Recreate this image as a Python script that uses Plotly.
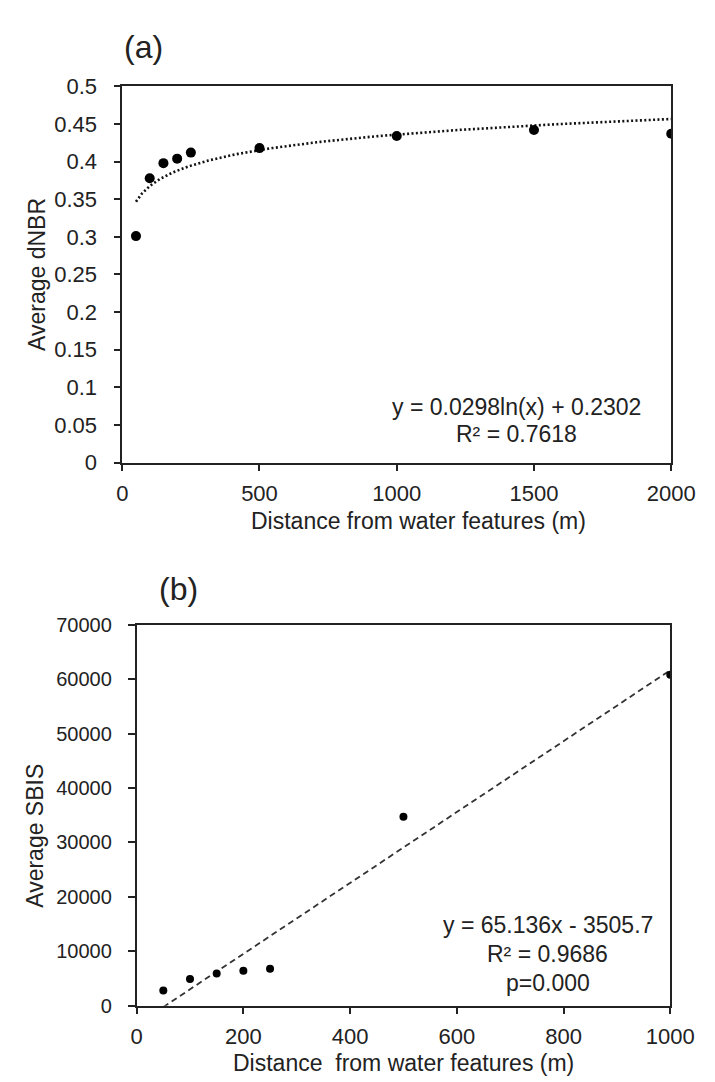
import numpy as np
import plotly.graph_objects as go

# ---- data ----
dist_a = [50, 100, 150, 200, 250, 500, 1000, 1500, 2000]
dnbr = [0.301, 0.378, 0.398, 0.404, 0.412, 0.418, 0.434, 0.442, 0.437]
fit_a_slope = 0.0298
fit_a_icpt = 0.2302

dist_b = [50, 100, 150, 200, 250, 500, 1000]
sbis = [2800, 4900, 5900, 6400, 6800, 34700, 60800]
fit_b_slope = 65.136
fit_b_icpt = -3505.7

ya_ticks = [0, 0.05, 0.1, 0.15, 0.2, 0.25, 0.3, 0.35, 0.4, 0.45, 0.5]
ya_text = ["0", "0.05", "0.1", "0.15", "0.2", "0.25", "0.3", "0.35", "0.4", "0.45", "0.5"]
xa_ticks = [0, 500, 1000, 1500, 2000]
yb_ticks = [0, 10000, 20000, 30000, 40000, 50000, 60000, 70000]
yb_text = [str(v) for v in yb_ticks]
xb_ticks = [0, 200, 400, 600, 800, 1000]

W, H = 715, 1082
FONT = "Arial, Liberation Sans, sans-serif"

def px_x(p):
    return p / W

def px_y(p):
    return 1 - p / H

fig = go.Figure()

# panel (a)
xa_fit = np.geomspace(min(dist_a), max(dist_a), 200)
fig.add_trace(go.Scatter(x=xa_fit, y=fit_a_slope * np.log(xa_fit) + fit_a_icpt,
                         mode="lines", line=dict(color="#111", width=2.6, dash="2px,2.4px"),
                         xaxis="x", yaxis="y", showlegend=False, hoverinfo="skip"))
fig.add_trace(go.Scatter(x=dist_a, y=dnbr, mode="markers",
                         marker=dict(color="black", size=10),
                         xaxis="x", yaxis="y", showlegend=False))

# panel (b)
xb_fit = np.array([min(dist_b), max(dist_b)])
fig.add_trace(go.Scatter(x=xb_fit, y=fit_b_slope * xb_fit + fit_b_icpt,
                         mode="lines", line=dict(color="#333", width=1.8, dash="6px,4px"),
                         xaxis="x2", yaxis="y2", showlegend=False, hoverinfo="skip"))
fig.add_trace(go.Scatter(x=dist_b, y=sbis, mode="markers",
                         marker=dict(color="black", size=8),
                         xaxis="x2", yaxis="y2", showlegend=False))

def axis_common(fs):
    return dict(showline=True, linecolor="#222", linewidth=1.5, mirror=True,
                ticks="outside", ticklen=7, tickcolor="#222", tickwidth=1.5,
                showgrid=False, zeroline=False,
                tickfont=dict(family=FONT, size=fs, color="#222"))

fig.update_layout(
    width=W, height=H, margin=dict(l=0, r=0, t=0, b=0),
    paper_bgcolor="white", plot_bgcolor="white",
    xaxis=dict(domain=[px_x(113), px_x(686)], range=[0, 2000], anchor="y",
               tickvals=xa_ticks, ticklabelstandoff=3, **axis_common(22)),
    yaxis=dict(domain=[px_y(453), px_y(68)], range=[0, 0.5], anchor="x",
               tickvals=ya_ticks, ticktext=ya_text, ticklabelstandoff=12, **axis_common(22)),
    xaxis2=dict(domain=[px_x(128), px_x(685)], range=[0, 1000], anchor="y2",
                tickvals=xb_ticks, ticklabelstandoff=3, **axis_common(22)),
    yaxis2=dict(domain=[px_y(1009), px_y(619)], range=[0, 70000], anchor="x2",
                tickvals=yb_ticks, ticktext=yb_text, ticklabelstandoff=12, **axis_common(20)),
)

def ann(text, x, y, size=23, angle=0):
    fig.add_annotation(text=text, x=px_x(x), y=px_y(y), xref="paper", yref="paper",
                       showarrow=False, xanchor="center", yanchor="middle",
                       textangle=angle, font=dict(family=FONT, size=size, color="#222"))

ann("(a)", 135, 28, size=32)
ann("(b)", 172, 582, size=32)
ann("y = 0.0298ln(x) + 0.2302", 524, 396)
ann("R² = 0.7618", 524, 424)
ann("Distance from water features (m)", 422, 513)
ann("Average dNBR", 24, 260, angle=-90)

ann("y = 65.136x - 3505.7", 557, 926)
ann("R² = 0.9686", 557, 956)
ann("p=0.000", 557, 986)
ann("Distance  from water features (m)", 407, 1068)
ann("Average SBIS", 22, 835, angle=-90)

fig.write_html("out.html")
